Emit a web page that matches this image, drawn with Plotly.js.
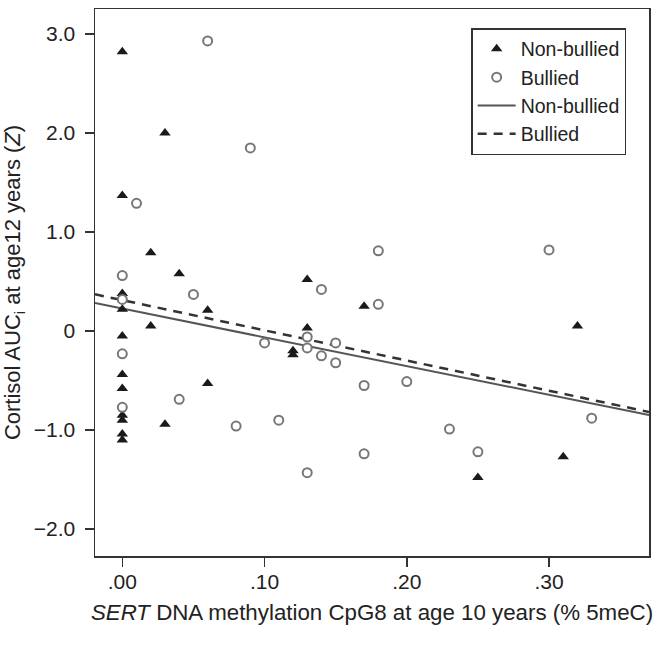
<!DOCTYPE html>
<html>
<head>
<meta charset="utf-8">
<script src="https://cdn.plot.ly/plotly-3.0.1.min.js"></script>
<style>html,body{margin:0;padding:0;background:#fff;}#chart{width:664px;height:645px;}</style>
</head>
<body>
<div id="chart"></div>
<script>
// Non-bullied (filled triangles)
const nonBulliedX = [0, 0, 0, 0, 0, 0, 0, 0, 0, 0, 0,
  0.03, 0.02, 0.04, 0.02, 0.06, 0.06, 0.03, 0.13, 0.17, 0.13, 0.12, 0.12, 0.32, 0.31, 0.25];
const nonBulliedY = [2.82, 1.37, 0.38, 0.22, -0.05, -0.44, -0.58, -0.85, -0.90, -1.04, -1.10,
  2.00, 0.79, 0.58, 0.05, 0.21, -0.53, -0.94, 0.52, 0.25, 0.03, -0.20, -0.24, 0.05, -1.27, -1.48];

// Bullied (open circles)
const bulliedX = [0, 0, 0, 0, 0.01, 0.06, 0.09, 0.05, 0.04, 0.14, 0.18, 0.18, 0.13, 0.10,
  0.13, 0.15, 0.14, 0.15, 0.17, 0.20, 0.08, 0.11, 0.17, 0.13, 0.30, 0.33, 0.23, 0.25];
const bulliedY = [0.56, 0.32, -0.23, -0.77, 1.29, 2.93, 1.85, 0.37, -0.69, 0.42, 0.81, 0.27, -0.06, -0.12,
  -0.17, -0.12, -0.25, -0.32, -0.55, -0.51, -0.96, -0.90, -1.24, -1.43, 0.82, -0.88, -0.99, -1.22];

// Fitted regression lines (endpoints read at the plot edges)
const fitX = [-0.0192, 0.3703];
const nonBulliedFitY = [0.283, -0.849];
const bulliedFitY = [0.371, -0.817];

// Axis ticks
const xTickVals = [0, 0.1, 0.2, 0.3];
const xTickText = ['.00', '.10', '.20', '.30'];
const yTickVals = [3, 2, 1, 0, -1, -2];
const yTickText = ['3.0', '2.0', '1.0', '0', '\u22121.0', '\u22122.0'];

const FONT = 'Liberation Sans, Arial, Helvetica, sans-serif';
const TXT = '#222';

const traces = [
  {x: fitX, y: nonBulliedFitY, type: 'scatter', mode: 'lines', name: 'Non-bullied',
   line: {color: '#555', width: 2}, legendrank: 3},
  {x: fitX, y: bulliedFitY, type: 'scatter', mode: 'lines', name: 'Bullied',
   line: {color: '#333', width: 2.5, dash: '9px,7px'}, legendrank: 4},
  {x: nonBulliedX, y: nonBulliedY, type: 'scatter', mode: 'markers', name: 'Non-bullied',
   marker: {symbol: 'triangle-up', size: 10, color: '#1a1a1a'}, legendrank: 1},
  {x: bulliedX, y: bulliedY, type: 'scatter', mode: 'markers', name: 'Bullied',
   marker: {symbol: 'circle', size: 9, color: '#fff', line: {color: '#777', width: 2}}, legendrank: 2}
];

const axisCommon = {
  showline: true, mirror: true, linecolor: '#333', linewidth: 1.5,
  ticks: 'outside', ticklen: 9, tickwidth: 1.5, tickcolor: '#333',
  showgrid: false, zeroline: false,
  tickfont: {family: FONT, size: 21, color: TXT}
};

const layout = {
  width: 664, height: 645,
  margin: {l: 95, r: 15, t: 9, b: 89},
  paper_bgcolor: '#fff', plot_bgcolor: '#fff',
  font: {family: FONT, color: TXT},
  showlegend: true,
  legend: {
    x: 0.679, y: 0.965, xanchor: 'left', yanchor: 'top',
    bgcolor: '#fff', bordercolor: '#333', borderwidth: 1.5,
    itemwidth: 38,
    font: {family: FONT, size: 19.5, color: TXT}
  },
  xaxis: Object.assign({}, axisCommon, {
    range: [-0.0192, 0.3703], tickvals: xTickVals, ticktext: xTickText,
    ticklabelstandoff: -3,
    title: {text: '<i>SERT</i> DNA methylation CpG8 at age 10 years (% 5meC)',
            font: {family: FONT, size: 22.3, color: TXT}, standoff: 12}
  }),
  yaxis: Object.assign({}, axisCommon, {
    range: [-2.272, 3.253], tickvals: yTickVals, ticktext: yTickText,
    ticklabelstandoff: 5,
    title: {text: 'Cortisol AUC<sub>i</sub> at age12 years (<i>Z</i>)',
            font: {family: FONT, size: 22, color: TXT}, standoff: 10}
  })
};

Plotly.newPlot('chart', traces, layout, {displayModeBar: false, staticPlot: true});
</script>
</body>
</html>
